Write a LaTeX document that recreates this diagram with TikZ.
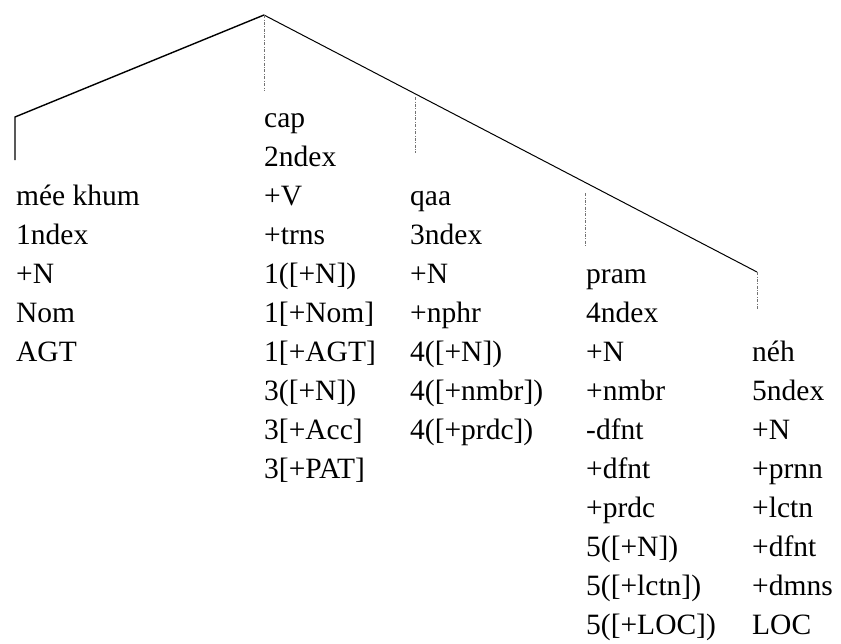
\documentclass[tikz,border=0pt]{standalone}
\usepackage{fontspec}
\setmainfont{Liberation Serif}
\newfontfamily\treefont{Liberation Serif}
\begin{document}
\begin{tikzpicture}[x=1pt,y=-1pt,
  lbl/.style={anchor=base west, inner sep=0pt, font=\treefont\fontsize{29.5}{32}\selectfont},
  branchL/.style={line width=1.4pt},
  branchR/.style={line width=1.0pt},
  guide/.style={black!55, line width=0.7pt, dash pattern=on 3pt off 1.5pt on 0.8pt off 1.5pt}]
\useasboundingbox (0,0) rectangle (841,643);
\pgfmathsetmacro{\rowA}{127.5}
\pgfmathsetmacro{\rowD}{39}
% branches
\coordinate (apex) at (264,15);
\coordinate (lknee) at (15,117);
\coordinate (lend) at (15,160);
\coordinate (rend) at (757,272);
\coordinate (g0b) at (264,90);
\coordinate (g1t) at (415,97);
\coordinate (g1b) at (415,153);
\coordinate (g2t) at (585,193);
\coordinate (g2b) at (585,247);
\coordinate (g3b) at (757,310);
\draw[branchL, line join=round] (lend) -- (lknee) -- (apex);
\draw[branchR] (apex) -- (rend);
\draw[guide] (apex) -- (g0b);
\draw[guide] (g1t) -- (g1b);
\draw[guide] (g2t) -- (g2b);
\draw[guide] (rend) -- (g3b);
% column 1
\foreach \t [count=\i from 2] in {mée khum, 1ndex, +N, Nom, AGT}
  \node[lbl] (ca\i) at (16,{\rowA+\rowD*\i}) {\t};
% column 2
\foreach \t [count=\i from 0] in {cap, 2ndex, +V, +trns, 1([+N]), 1[+Nom], 1[+AGT], 3([+N]), 3[+Acc], 3[+PAT]}
  \node[lbl] (cb\i) at (264,{\rowA+\rowD*\i}) {\t};
% column 3
\foreach \t [count=\i from 2] in {qaa, 3ndex, +N, +nphr, 4([+N]), 4([+nmbr]), 4([+prdc])}
  \node[lbl] (cc\i) at (410,{\rowA+\rowD*\i}) {\t};
% column 4
\foreach \t [count=\i from 4] in {pram, 4ndex, +N, +nmbr, -dfnt, +dfnt, +prdc, 5([+N]), 5([+lctn]), 5([+LOC])}
  \node[lbl] (cd\i) at (586,{\rowA+\rowD*\i}) {\t};
% column 5
\foreach \t [count=\i from 6] in {néh, 5ndex, +N, +prnn, +lctn, +dfnt, +dmns, LOC}
  \node[lbl] (ce\i) at (752,{\rowA+\rowD*\i}) {\t};
\end{tikzpicture}
\end{document}
